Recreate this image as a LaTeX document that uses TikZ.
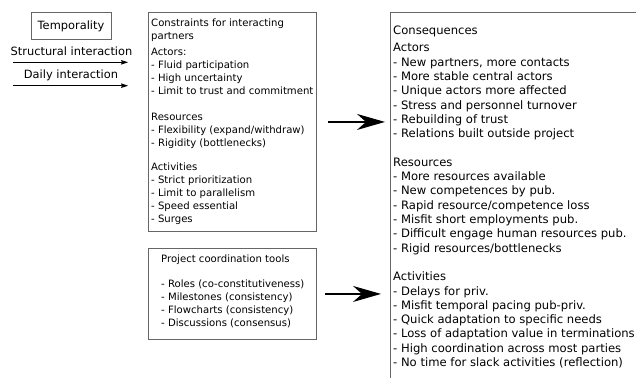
\documentclass[tikz,border=0pt]{standalone}
\usepackage{fontspec}
\setmainfont{DejaVu Sans}
\usetikzlibrary{arrows.meta}
\begin{document}
\begin{tikzpicture}[x=1pt,y=-1pt,
 box/.style={draw=black!60, line width=0.9pt, inner sep=0pt},
 small/.style={font=\fontsize{10.1}{12.8}\selectfont, align=left, inner sep=0pt, anchor=north west},
 big/.style={font=\fontsize{11.6}{14.3}\selectfont, align=left, inner sep=0pt, anchor=north west},
 lab/.style={font=\fontsize{11.4}{13}\selectfont, inner sep=0pt},
 bigarrow/.style={line width=1.3pt, -{Stealth[length=28pt,width=16pt,inset=9pt]}},
 smallarrow/.style={line width=0.8pt, -{Stealth[length=7pt,width=4.5pt,inset=1pt]}}]
\useasboundingbox (0,0) rectangle (636,377);
\clip (0,0) rectangle (636,377);
% left labels
\node[box, minimum width=80pt, minimum height=27pt] (temp) at (71,26) {};
\node[lab, anchor=base] (templ) at (71,29.3) {Temporality};
\node[lab, anchor=base] (struct) at (71.5,56) {Structural interaction};
\node[lab, anchor=base] (daily) at (71,78.3) {Daily interaction};
\coordinate (s1) at (13,62.3);
\coordinate (s2) at (128,62.3);
\coordinate (d1) at (13,85.7);
\coordinate (d2) at (128,85.7);
\draw[smallarrow] (s1) -- (s2);
\draw[smallarrow] (d1) -- (d2);
% constraints box
\node[box, anchor=north west, minimum width=168pt, minimum height=219pt] (cons) at (148,12) {};
\node[small] (ct) at (151,19) {Constraints for interacting\\partners};
\node[small] (ca) at (151,48.3) {Actors:\\- Fluid participation\\- High uncertainty\\- Limit to trust and commitment};
\node[small] (cr) at (151,113) {Resources\\- Flexibility (expand/withdraw)\\- Rigidity (bottlenecks)};
\node[small] (cv) at (151,163) {Activities\\- Strict prioritization\\- Limit to parallelism\\- Speed essential\\- Surges};
% project box
\node[box, anchor=north west, minimum width=168pt, minimum height=91pt] (proj) at (148,248) {};
\node[small] (pt) at (161,254.6) {Project coordination tools\\[12.6pt]- Roles (co-constitutiveness)\\- Milestones (consistency)\\- Flowcharts (consistency)\\- Discussions (consensus)};
% consequences box
\node[box, anchor=north west, minimum width=270pt, minimum height=400pt] (csq) at (390,12) {};
\node[big] (qt) at (393,26) {Consequences};
\node[big] (qa) at (393,43.3) {Actors\\- New partners, more contacts\\- More stable central actors\\- Unique actors more affected\\- Stress and personnel turnover\\- Rebuilding of trust\\- Relations built outside project\\[14.3pt]Resources\\- More resources available\\- New competences by pub.\\- Rapid resource/competence loss\\- Misfit short employments pub.\\- Difficult engage human resources pub.\\- Rigid resources/bottlenecks\\[14.3pt]Activities\\- Delays for priv.\\- Misfit temporal pacing pub-priv.\\- Quick adaptation to specific needs\\- Loss of adaptation value in terminations\\- High coordination across most parties\\- No time for slack activities (reflection)};
% arrows
\draw[bigarrow, shorten <=11pt, shorten >=5pt] (cons.east) -- (cons.east -| csq.west);
\draw[bigarrow, shorten <=8pt, shorten >=9pt] (proj.east) -- (proj.east -| csq.west);
\end{tikzpicture}
\end{document}
